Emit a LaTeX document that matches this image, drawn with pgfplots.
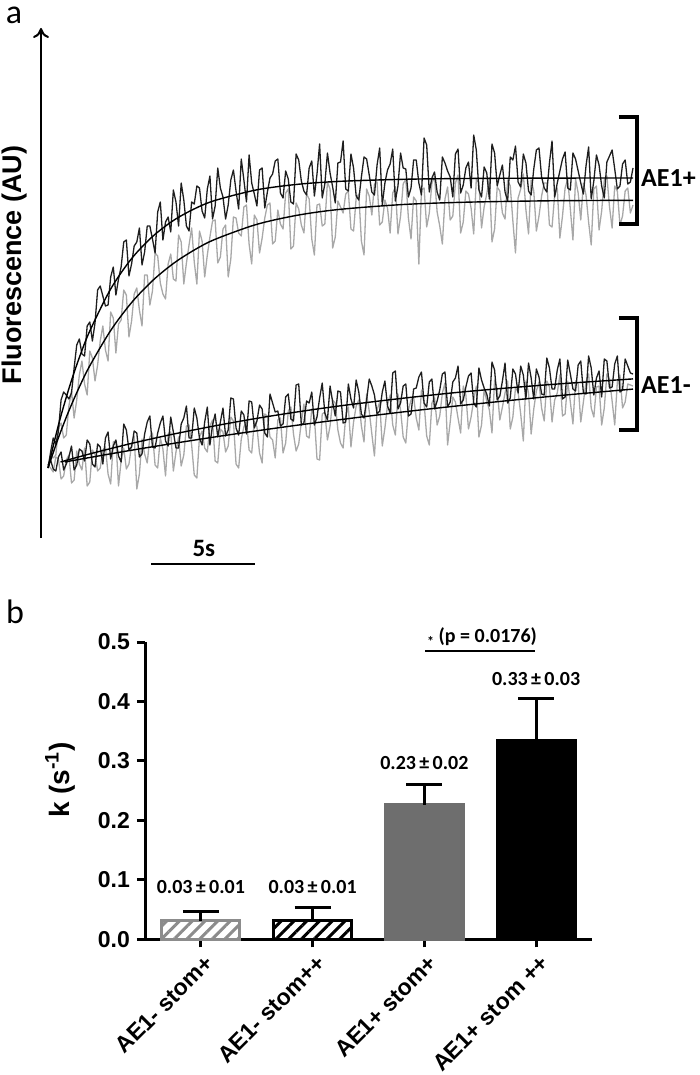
\documentclass[border=0pt]{standalone}
\usepackage{pgfplots}
\pgfplotsset{compat=1.18}
\usepackage{pgfplotstable}
\usepackage{fontspec}
\setmainfont{Carlito}
\newfontfamily\arial{Liberation Sans}
\usetikzlibrary{patterns.meta,arrows.meta}

\definecolor{trgray}{HTML}{A8A8A8}
\definecolor{trblack}{HTML}{1E1E1E}
\definecolor{bargray}{HTML}{6E6E6E}
\definecolor{hatchgray}{HTML}{8C8C8C}

% stopped-flow traces, 0.125 s steps (AU)
% ba/ga: AE1+ black/gray, bm/gm: AE1- black/gray
\pgfplotstableread{
t ba ga bm gm
0 70 70 73 73
0.125 86 82 78 70
0.25 100 80 69 66
0.375 94 83 67 81
0.5 107 110 81 79
0.625 138 115 86 59
0.75 146 100 68 62
0.875 143 103 74 78
1 139 132 81 83
1.125 145 147 92 55
1.25 170 120 68 58
1.375 193 138 73 87
1.5 199 163 89 74
1.625 184 177 87 68
1.75 182 154 77 90
1.875 212 143 98 52
2 216 187 94 56
2.125 197 180 74 88
2.25 215 157 71 84
2.375 248 173 94 67
2.5 252 197 91 70
2.625 242 212 74 88
2.75 232 188 100 91
2.875 233 177 106 64
3 261 226 79 54
3.125 271 220 92 96
3.25 243 185 98 97
3.375 259 214 82 52
3.5 271 218 76 77
3.625 296 248 114 90
3.75 298 243 108 69
3.875 262 201 88 74
4 274 217 91 93
4.125 292 244 107 102
4.25 296 250 105 49
4.375 310 228 81 64
4.5 273 212 84 99
4.625 286 263 104 84
4.75 312 263 116 75
4.875 312 233 122 101
5 299 247 91 105
5.125 285 285 90 73
5.25 326 282 105 70
5.375 336 255 115 100
5.5 298 244 122 89
5.625 316 239 97 62
5.75 321 274 92 104
5.875 306 284 121 106
6 348 259 106 67
6.125 336 257 90 86
6.25 312 303 90 101
6.375 355 296 114 72
6.5 338 254 120 83
6.625 312 275 132 112
6.75 307 293 100 113
6.875 336 310 100 93
7 334 276 130 63
7.125 352 254 120 60
7.25 350 307 100 101
7.375 327 297 93 107
7.5 320 261 116 90
7.625 349 283 131 86
7.75 362 301 93 112
7.875 319 317 113 118
8 332 318 124 77
8.125 370 275 101 75
8.25 350 281 116 109
8.375 341 309 130 106
8.5 319 313 102 86
8.625 333 261 108 92
8.75 358 279 140 121
8.875 368 321 139 117
9 347 320 110 74
9.125 329 305 103 70
9.25 379 302 127 99
9.375 358 331 123 111
9.5 336 333 104 117
9.625 383 294 137 88
9.75 355 274 136 85
9.875 344 323 110 117
10 332 318 117 111
10.125 368 285 133 85
10.25 370 300 129 75
10.375 330 320 105 124
10.5 346 333 101 122
10.625 360 335 144 101
10.75 364 294 135 98
10.875 377 297 126 80
11 379 328 127 118
11.125 345 314 112 120
11.25 340 309 114 85
11.375 367 345 141 95
11.5 359 349 144 127
11.625 336 289 119 131
11.75 334 292 117 104
11.875 384 335 153 87
12 378 329 154 94
12.125 357 313 113 116
12.25 347 305 115 134
12.375 343 344 137 102
12.5 370 339 135 100
12.625 377 299 146 129
12.75 342 283 113 121
12.875 364 333 121 79
13 394 334 140 78
13.125 340 312 155 124
13.25 354 314 125 126
13.375 385 356 118 98
13.5 365 349 152 112
13.625 351 290 136 138
13.75 335 301 122 135
13.875 375 337 147 108
14 376 331 146 95
14.125 397 325 115 90
14.25 349 344 116 122
14.375 347 347 154 131
14.5 384 309 139 91
14.625 370 307 130 116
14.75 342 340 158 132
14.875 338 344 146 138
15 361 297 124 112
15.125 381 283 120 96
15.25 379 349 138 144
15.375 363 342 159 127
15.5 346 323 152 104
15.625 343 354 143 82
15.75 373 356 124 128
15.875 390 313 127 136
16 333 316 146 92
16.125 355 338 157 110
16.25 368 330 132 133
16.375 374 305 125 143
16.5 389 345 165 113
16.625 337 351 167 103
16.75 352 304 129 144
16.875 385 322 135 128
17 370 354 152 101
17.125 369 359 154 95
17.25 341 320 122 128
17.375 350 299 124 138
17.5 378 341 149 141
17.625 378 337 150 120
17.75 355 274 161 108
17.875 343 348 166 148
18 400 350 135 135
18.125 393 311 131 102
18.25 346 325 156 93
18.375 360 355 159 135
18.5 366 361 129 141
18.625 346 326 137 113
18.75 338 312 148 122
18.875 381 294 164 145
19 375 339 166 155
19.125 367 351 131 93
19.25 361 318 136 116
19.375 341 322 156 141
19.5 384 355 160 136
19.625 389 363 172 120
19.75 345 305 134 105
19.875 353 316 138 152
20 370 347 151 143
20.125 376 344 162 109
20.25 350 330 165 121
20.375 403 304 135 138
20.5 388 359 131 152
20.625 348 355 170 101
20.75 341 310 158 113
20.875 371 331 150 149
21 365 344 144 137
21.125 339 360 132 128
21.25 394 296 176 105
21.375 385 309 168 158
21.5 352 351 138 149
21.625 363 347 142 118
21.75 373 325 157 131
21.875 346 319 175 145
22 337 358 135 157
22.125 381 352 140 109
22.25 378 317 169 121
22.375 392 285 164 150
22.5 356 340 145 146
22.625 351 349 172 124
22.75 384 364 163 97
22.875 375 328 139 157
23 347 304 175 145
23.125 343 358 160 104
23.25 369 347 139 129
23.375 388 307 169 147
23.5 390 322 161 156
23.625 361 342 144 130
23.75 350 355 143 117
23.875 346 355 180 157
24 375 313 170 151
24.125 397 311 149 116
24.25 341 343 149 138
24.375 355 350 168 145
24.5 367 300 179 163
24.625 379 322 139 122
24.75 386 350 141 124
24.875 350 359 178 157
25 348 329 164 136
25.125 385 298 149 114
25.25 379 359 147 157
25.375 367 345 173 154
25.5 355 318 177 116
25.625 344 355 145 136
25.75 372 343 144 156
25.875 391 316 182 164
26 339 293 170 130
26.125 357 349 143 121
26.25 383 352 160 151
26.375 373 308 167 152
26.5 352 327 141 113
26.625 340 358 179 130
26.75 376 362 177 164
26.875 382 331 150 159
27 388 310 151 137
27.125 369 352 174 113
27.25 349 347 182 156
27.375 352 313 146 163
27.5 374 322 148 130
27.625 378 347 179 136
27.75 354 350 172 154
27.875 356 325 165 153
28 370 333 164 152
}\traces

\begin{document}
\begin{tikzpicture}
\path[use as bounding box] (0,0) rectangle (350pt,-537.5pt);

\node[font=\fontsize{17}{17}\selectfont] at (7pt,-7.5pt) {a};
\node[font=\fontsize{17}{17}\selectfont] at (7.5pt,-306pt) {b};

% ---- panel a: fluorescence traces
\begin{axis}[
  at={(20.5pt,-269pt)}, anchor=south west, scale only axis,
  width=296pt, height=255pt,
  xmin=-0.335, xmax=28, ymin=0, ymax=510,
  axis x line=none, axis y line=left,
  y axis line style={line width=1pt, -{To[length=5pt,width=8pt]}},
  xtick=\empty, ytick=\empty,
  no markers, clip=false,
  ylabel={Fluorescence (AU)},
  ylabel style={font=\arial\bfseries\fontsize{13.5}{15}\selectfont,
    at={(axis description cs:-0.0439,0.535)}, anchor=center},
]
\addplot[trgray, line width=0.65pt, line join=round] table[x=t,y=ga]{\traces};
\addplot[trgray, line width=0.65pt, line join=round] table[x=t,y=gm]{\traces};
\addplot[trblack, line width=0.65pt, line join=round] table[x=t,y=ba]{\traces};
\addplot[trblack, line width=0.65pt, line join=round] table[x=t,y=bm]{\traces};

% fitted curves
\addplot[black, line width=0.7pt, smooth] coordinates {
  (0,70)(0.5,113)(1,149.4)(1.5,180.5)(2,207)(3,249)(4,279.4)(5,301.4)(6,317.5)
  (7,329.1)(8,337.6)(10,348.2)(12,353.8)(14,356.7)(17,358.7)(20,359.5)(24,359.9)(28,360)};
\addplot[black, line width=0.7pt, smooth] coordinates {
  (0,70)(0.5,100.3)(1,127.2)(1.5,151)(2,172.2)(3,207.5)(4,235.4)(5,257.3)(6,274.5)
  (7,288)(8,298.7)(10,313.7)(12,323)(14,328.7)(17,333.5)(20,335.8)(24,337.2)(28,337.7)};
\addplot[black, line width=0.7pt, smooth] coordinates {
  (0.6,76)(2,84.1)(4,94.6)(6,103.9)(8,112.2)(10,119.7)(12,126.3)(14,132.2)
  (17,139.8)(20,146.4)(24,153.4)(28,159.1)};
\addplot[black, line width=0.7pt, smooth] coordinates {
  (0.8,76)(2,80.5)(4,87.8)(6,94.6)(8,101.1)(10,107.2)(12,113)(14,118.4)
  (17,126.1)(20,133)(24,141.5)(28,148.9)};

% brackets and labels
\draw[line width=1.75pt] (axis cs:27.32,421) -- (axis cs:28.18,421)
  -- (axis cs:28.18,314) -- (axis cs:27.32,314);
\draw[line width=1.75pt] (axis cs:27.32,220) -- (axis cs:28.18,220)
  -- (axis cs:28.18,108) -- (axis cs:27.32,108);
\node[anchor=west, inner sep=0pt, font=\bfseries\fontsize{13}{15}\selectfont] at (axis cs:28.37,360) {AE1+};
\node[anchor=west, inner sep=0pt, font=\bfseries\fontsize{13}{15}\selectfont] at (axis cs:28.37,153) {AE1-};

% 5 s scale bar
\draw[line width=1.3pt] (axis cs:4.93,-26) -- (axis cs:9.93,-26);
\node[font=\bfseries\fontsize{12.5}{14}\selectfont] at (axis cs:7.46,-10) {5s};
\end{axis}

% ---- panel b: rate constants
\begin{axis}[
  at={(72.5pt,-469.65pt)}, anchor=south west, scale only axis,
  width=223.5pt, height=148.65pt,
  xmin=-0.5, xmax=3.5, ymin=0, ymax=0.5,
  axis x line=bottom, axis y line=left,
  axis line style={line width=1.5pt, -},
  tick align=outside, major tick length=4pt,
  tick style={line width=1.5pt, black},
  xtick={0,1,2,3},
  xticklabels={AE1- stom+, AE1- stom++, AE1+ stom+, AE1+ stom ++},
  xticklabel style={rotate=45, anchor=north east, inner sep=1pt, yshift=-2pt,
    font=\arial\bfseries\fontsize{11.5}{13}\selectfont},
  ytick={0,0.1,0.2,0.3,0.4,0.5},
  yticklabel style={/pgf/number format/.cd, fixed, fixed zerofill, precision=1,
    assume math mode=true, /tikz/.cd,
    font=\arial\bfseries\fontsize{11.5}{13}\selectfont},
  ylabel={k (s\textsuperscript{-1})},
  ylabel style={font=\arial\bfseries\fontsize{14}{16}\selectfont,
    at={(axis description cs:-0.19,0.536)}, anchor=center},
  clip=false,
  every axis plot/.append style={ybar, bar width=39pt, bar shift=0pt,
    line width=1.5pt,
    error bars/y dir=plus, error bars/y explicit,
    error bars/error bar style={line width=1.5pt, black, solid},
    error bars/error mark options={rotate=90, mark size=9pt, line width=1.5pt, black}},
]
\addplot[draw=hatchgray, pattern={Lines[angle=45,distance=4.5pt,line width=1.5pt]},
  pattern color=hatchgray] coordinates {(0,0.031) +- (0,0.015)};
\addplot[draw=black, pattern={Lines[angle=45,distance=4.5pt,line width=1.5pt]},
  pattern color=black] coordinates {(1,0.032) +- (0,0.021)};
\addplot[draw=bargray, fill=bargray] coordinates {(2,0.226) +- (0,0.034)};
\addplot[draw=black, fill=black] coordinates {(3,0.334) +- (0,0.071)};

\node[font=\bfseries\fontsize{10}{12}\selectfont] at (axis cs:0,0.0885) {0.03\,±\,0.01};
\node[font=\bfseries\fontsize{10}{12}\selectfont] at (axis cs:1,0.0885) {0.03\,±\,0.01};
\node[font=\bfseries\fontsize{10}{12}\selectfont] at (axis cs:2,0.2965) {0.23\,±\,0.02};
\node[font=\bfseries\fontsize{10}{12}\selectfont] at (axis cs:3,0.438) {0.33\,±\,0.03};

\draw[line width=1pt] (axis cs:2.006,0.485) -- (axis cs:2.99,0.485);
\node[font=\bfseries\fontsize{10}{12}\selectfont] at (axis cs:2.516,0.508)
  {\raisebox{-0.4ex}{\fontsize{7}{7}\selectfont *} (p = 0.0176)};
\end{axis}
\end{tikzpicture}
\end{document}
